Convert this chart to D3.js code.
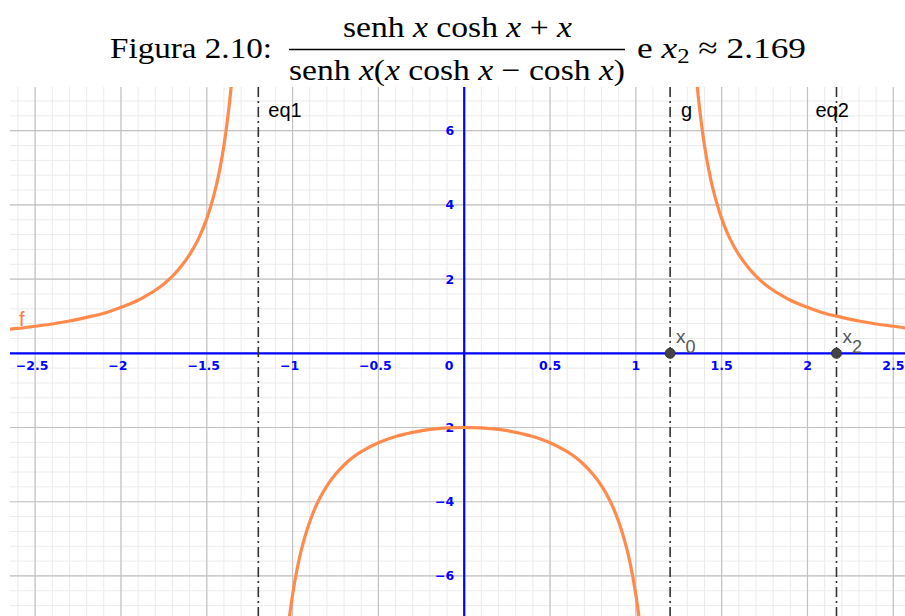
<!DOCTYPE html>
<html>
<head>
<meta charset="utf-8">
<script src="https://cdn.jsdelivr.net/npm/d3@7"></script>
<style>
  html, body { margin: 0; padding: 0; background: #fff; }
  svg { display: block; }
</style>
</head>
<body>
<svg id="chart" width="905" height="616"></svg>
<script>
// Sample points of f on each branch (x, y)
const leftBranch = [
  [-2.7, 0.63], [-2.6, 0.67], [-2.5, 0.73], [-2.4, 0.79], [-2.3, 0.87], [-2.2, 0.97],
  [-2.1, 1.08], [-2.0, 1.24], [-1.95, 1.33], [-1.9, 1.43], [-1.85, 1.56], [-1.8, 1.70],
  [-1.75, 1.87], [-1.7, 2.08], [-1.65, 2.34], [-1.6, 2.66], [-1.55, 3.07], [-1.5, 3.63],
  [-1.45, 4.42], [-1.42, 5.06], [-1.4, 5.60], [-1.37, 6.65], [-1.36, 7.09], [-1.35, 7.58],
  [-1.33, 8.80]
];
const middleBranch = [
  [-1.02, -7.17], [-1.01, -6.82], [-1.0, -6.51], [-0.98, -5.97], [-0.95, -5.32], [-0.9, -4.54],
  [-0.85, -3.98], [-0.8, -3.57], [-0.75, -3.26], [-0.7, -3.01], [-0.65, -2.81], [-0.6, -2.65],
  [-0.5, -2.41], [-0.4, -2.24], [-0.3, -2.13], [-0.2, -2.05], [-0.1, -2.01], [0, -2.00],
  [0.1, -2.01], [0.2, -2.05], [0.3, -2.13], [0.4, -2.24], [0.5, -2.41], [0.6, -2.65],
  [0.65, -2.81], [0.7, -3.01], [0.75, -3.26], [0.8, -3.57], [0.85, -3.98], [0.9, -4.54],
  [0.95, -5.32], [0.98, -5.97], [1.0, -6.51], [1.01, -6.82], [1.02, -7.17]
];
const rightBranch = [
  [1.33, 8.80], [1.35, 7.58], [1.36, 7.09], [1.37, 6.65], [1.4, 5.60], [1.42, 5.06],
  [1.45, 4.42], [1.5, 3.63], [1.55, 3.07], [1.6, 2.66], [1.65, 2.34], [1.7, 2.08],
  [1.75, 1.87], [1.8, 1.70], [1.85, 1.56], [1.9, 1.43], [1.95, 1.33], [2.0, 1.24],
  [2.1, 1.08], [2.2, 0.97], [2.3, 0.87], [2.4, 0.79], [2.5, 0.73], [2.6, 0.67], [2.7, 0.63]
];

// Vertical lines and marked roots
const verticalLines = [
  { name: "eq1", x: -1.1997, dx: 10 },
  { name: "g", x: 1.1997, dx: 11 },
  { name: "eq2", x: 2.169, dx: -21 }
];
const rootPoints = [
  { name: "x", sub: "0", x: 1.1997, y: 0 },
  { name: "x", sub: "2", x: 2.169, y: 0 }
];

// Tick values and their labels
const xTicks = [-2.5, -2, -1.5, -1, -0.5, 0, 0.5, 1, 1.5, 2, 2.5];
const xTickLabels = ["−2.5", "−2", "−1.5", "−1", "−0.5", "0", "0.5", "1", "1.5", "2", "2.5"];
const yTicks = [-6, -4, -2, 2, 4, 6];
const yTickLabels = ["−6", "−4", "−2", "2", "4", "6"];

const svg = d3.select("#chart");
const plot = { left: 10, right: 905, top: 87, bottom: 616 };

const x = d3.scaleLinear().domain([-2.6465, 2.5682]).range([plot.left, plot.right]);
const y = d3.scaleLinear().domain([7.178, -7.08]).range([plot.top, plot.bottom]);

// ---- Title ----
const title = svg.append("g")
  .attr("font-family", "'Liberation Serif', 'DejaVu Serif', serif")
  .attr("font-size", 30)
  .attr("fill", "#000");

title.append("text").attr("x", 110).attr("y", 58)
  .attr("textLength", 162).attr("lengthAdjust", "spacingAndGlyphs")
  .text("Figura 2.10:");

function mathRun(sel, parts) {
  parts.forEach(p => {
    const t = sel.append("tspan").text(p[0]);
    if (p[1]) t.attr("font-style", "italic");
  });
}

const num = title.append("text").attr("x", 343).attr("y", 37)
  .attr("textLength", 229).attr("lengthAdjust", "spacingAndGlyphs");
mathRun(num, [["senh "], ["x", 1], [" cosh "], ["x", 1], [" + "], ["x", 1]]);

title.append("line")
  .attr("x1", 289).attr("x2", 625).attr("y1", 49.5).attr("y2", 49.5)
  .attr("stroke", "#000").attr("stroke-width", 1.3);

const den = title.append("text").attr("x", 289).attr("y", 80)
  .attr("textLength", 336).attr("lengthAdjust", "spacingAndGlyphs");
mathRun(den, [["senh "], ["x", 1], ["("], ["x", 1], [" cosh "], ["x", 1], [" − cosh "], ["x", 1], [")"]]);

const tail = title.append("text").attr("x", 637).attr("y", 58)
  .attr("textLength", 169).attr("lengthAdjust", "spacingAndGlyphs");
tail.append("tspan").text("e ");
tail.append("tspan").attr("font-style", "italic").text("x");
tail.append("tspan").attr("font-size", 21).attr("dy", 5).text("2");
tail.append("tspan").attr("dy", -5).text(" ≈ 2.169");

// ---- Plot area ----
svg.append("clipPath").attr("id", "clip")
  .append("rect")
  .attr("x", plot.left).attr("y", plot.top)
  .attr("width", plot.right - plot.left).attr("height", plot.bottom - plot.top);

const area = svg.append("g").attr("clip-path", "url(#clip)");

// Minor grid
const minorX = d3.range(-27, 27).map(i => i / 10);
const minorY = d3.range(-18, 19).map(i => i * 0.4);
area.append("g").selectAll("line").data(minorX).join("line")
  .attr("x1", d => x(d)).attr("x2", d => x(d))
  .attr("y1", plot.top).attr("y2", plot.bottom)
  .attr("stroke", "#ebebeb").attr("stroke-width", 1);
area.append("g").selectAll("line").data(minorY).join("line")
  .attr("x1", plot.left).attr("x2", plot.right)
  .attr("y1", d => y(d)).attr("y2", d => y(d))
  .attr("stroke", "#ebebeb").attr("stroke-width", 1);

// Major grid
const majorX = d3.range(-6, 6).map(i => i * 0.5);
const majorY = d3.range(-4, 5).map(i => i * 2);
area.append("g").selectAll("line").data(majorX).join("line")
  .attr("x1", d => x(d)).attr("x2", d => x(d))
  .attr("y1", plot.top).attr("y2", plot.bottom)
  .attr("stroke", "#c2c2c2").attr("stroke-width", 1.2);
area.append("g").selectAll("line").data(majorY).join("line")
  .attr("x1", plot.left).attr("x2", plot.right)
  .attr("y1", d => y(d)).attr("y2", d => y(d))
  .attr("stroke", "#c2c2c2").attr("stroke-width", 1.2);

// Axes
area.append("line")
  .attr("x1", plot.left).attr("x2", plot.right)
  .attr("y1", y(0)).attr("y2", y(0))
  .attr("stroke", "#0000ff").attr("stroke-width", 2.2);
area.append("line")
  .attr("x1", x(0)).attr("x2", x(0))
  .attr("y1", plot.top).attr("y2", plot.bottom)
  .attr("stroke", "#0000ff").attr("stroke-width", 2.2);

// Tick labels
const tickFont = "'DejaVu Sans', Verdana, sans-serif";
const labelFont = "'Liberation Sans', Arial, sans-serif";
area.append("g").selectAll("text").data(xTicks).join("text")
  .attr("x", d => d === 0 ? x(0) - 15 : (d < 0 ? x(d) - 3 : x(d)))
  .attr("y", y(0) + 17)
  .attr("text-anchor", "middle")
  .attr("font-family", tickFont).attr("font-weight", "bold").attr("font-size", 12.5)
  .attr("fill", "#0000ff")
  .text((d, i) => xTickLabels[i]);
area.append("g").selectAll("text").data(yTicks).join("text")
  .attr("x", x(0) - 10)
  .attr("y", d => y(d) + 4.5)
  .attr("text-anchor", "end")
  .attr("font-family", tickFont).attr("font-weight", "bold").attr("font-size", 12.5)
  .attr("fill", "#0000ff")
  .text((d, i) => yTickLabels[i]);

// Vertical dash-dot lines
area.append("g").selectAll("line").data(verticalLines).join("line")
  .attr("x1", d => x(d.x)).attr("x2", d => x(d.x))
  .attr("y1", plot.top).attr("y2", plot.bottom)
  .attr("stroke", "#333").attr("stroke-width", 1.6)
  .attr("stroke-dasharray", "10,4,2,4");
area.append("g").selectAll("text").data(verticalLines).join("text")
  .attr("x", d => x(d.x) + d.dx)
  .attr("y", 117)
  .attr("font-family", labelFont).attr("font-size", 20)
  .attr("fill", "#000")
  .text(d => d.name);

// Function branches
const line = d3.line()
  .x(d => x(d[0])).y(d => y(d[1]))
  .curve(d3.curveCatmullRom.alpha(0.5));
area.append("g").selectAll("path").data([leftBranch, middleBranch, rightBranch]).join("path")
  .attr("d", line)
  .attr("fill", "none")
  .attr("stroke", "#ff8a4c")
  .attr("stroke-width", 3.2)
  .attr("stroke-linecap", "round");

area.append("text")
  .attr("x", 19).attr("y", 326)
  .attr("font-family", labelFont).attr("font-size", 20)
  .attr("fill", "#ff7a38")
  .text("f");

// Root points
area.append("g").selectAll("circle").data(rootPoints).join("circle")
  .attr("cx", d => x(d.x)).attr("cy", d => y(d.y))
  .attr("r", 5)
  .attr("fill", "#444").attr("stroke", "#333").attr("stroke-width", 1);
const lbl = area.append("g").selectAll("text").data(rootPoints).join("text")
  .attr("x", d => x(d.x) + 6)
  .attr("y", d => y(d.y) - 10)
  .attr("font-family", labelFont).attr("font-size", 19)
  .attr("fill", "#555");
lbl.append("tspan").text(d => d.name);
lbl.append("tspan").attr("dy", 10).attr("font-size", 18).text(d => d.sub);
</script>
</body>
</html>
